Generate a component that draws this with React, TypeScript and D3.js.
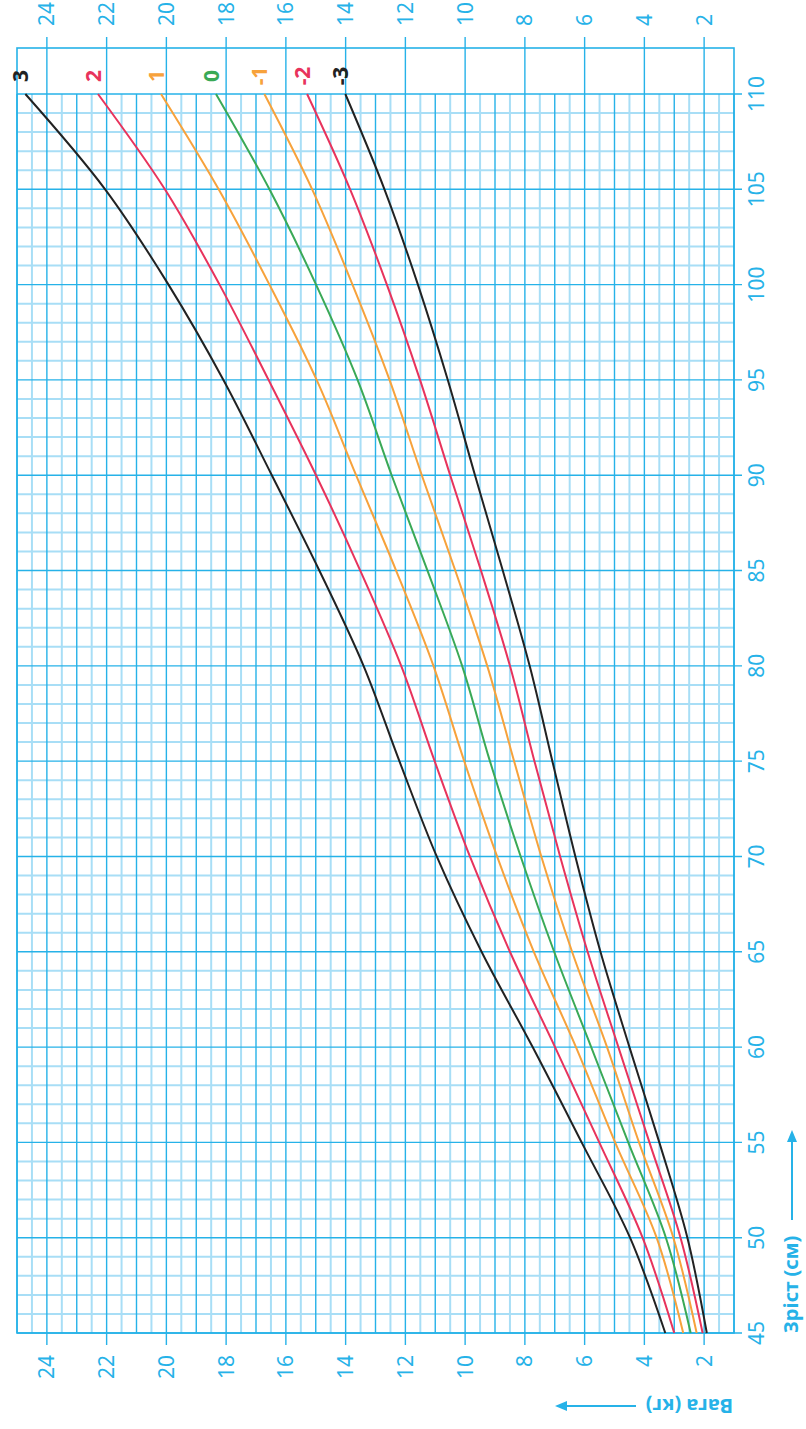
import React from "react";
import * as d3 from "d3";

const heights = [45, 50, 55, 60, 65, 70, 75, 80, 85, 90, 95, 100, 105, 110];
const sdP3 = [3.3, 4.48, 6.1, 7.74, 9.45, 10.95, 12.2, 13.4, 14.88, 16.47, 18.09, 19.93, 22.05, 24.72];
const sdP2 = [3.0, 4.06, 5.51, 6.99, 8.5, 9.84, 11.02, 12.14, 13.51, 14.99, 16.58, 18.22, 20.05, 22.29];
const sdP1 = [2.7, 3.59, 4.98, 6.29, 7.7, 8.93, 10.03, 11.06, 12.31, 13.65, 14.97, 16.55, 18.25, 20.18];
const sd0 = [2.45, 3.28, 4.54, 5.78, 7.02, 8.14, 9.17, 10.1, 11.26, 12.46, 13.6, 14.99, 16.55, 18.34];
const sdM1 = [2.25, 3.03, 4.18, 5.25, 6.42, 7.45, 8.36, 9.26, 10.33, 11.45, 12.53, 13.77, 15.12, 16.72];
const sdM2 = [2.05, 2.79, 3.83, 4.87, 5.9, 6.82, 7.68, 8.5, 9.47, 10.5, 11.51, 12.62, 13.85, 15.29];
const sdM3 = [1.91, 2.56, 3.5, 4.5, 5.47, 6.31, 7.08, 7.84, 8.74, 9.67, 10.58, 11.58, 12.7, 14.01];

const seriesLabels = ["3", "2", "1", "0", "-1", "-2", "-3"];
const seriesValues = [sdP3, sdP2, sdP1, sd0, sdM1, sdM2, sdM3];
const seriesColors = ["#222222", "#e8335c", "#f7a23b", "#3aa956", "#f7a23b", "#e8335c", "#222222"];

const weightTicks = [2, 4, 6, 8, 10, 12, 14, 16, 18, 20, 22, 24];
const heightTicks = [45, 50, 55, 60, 65, 70, 75, 80, 85, 90, 95, 100, 105, 110];

const xTitle = "Зріст (см)";
const yTitle = "Вага (кг)";

const W = 806;
const H = 1429;
const STRONG = "#26b2e8";
const LIGHT = "#a8def6";
const FONT = "'Noto Sans', sans-serif";

export default function App() {
  const xW = d3.scaleLinear().domain([1, 25]).range([734, 17]);
  const yH = d3.scaleLinear().domain([45, 110]).range([1333, 94]);
  const left = xW(25);
  const right = xW(1);
  const bottom = yH(45);
  const top = yH(110);
  const boxTop = 48;

  const halfKg = d3.range(1, 25.01, 0.5);
  const cms = d3.range(45, 110.01, 1);

  const line = d3
    .line<[number, number]>()
    .x((d) => xW(d[1]))
    .y((d) => yH(d[0]))
    .curve(d3.curveCatmullRom.alpha(0.5));

  return (
    <svg
      width={W}
      height={H}
      style={{ position: "absolute", left: 0, top: 0, background: "#fff" }}
    >
      {cms
        .filter((c) => c % 5 !== 0)
        .map((c) => (
          <line key={"hm" + c} x1={left} x2={right} y1={yH(c)} y2={yH(c)} stroke={LIGHT} strokeWidth={2} />
        ))}
      {halfKg
        .filter((w) => w % 1 !== 0)
        .map((w) => (
          <line key={"vm" + w} x1={xW(w)} x2={xW(w)} y1={top} y2={bottom} stroke={LIGHT} strokeWidth={2} />
        ))}
      {halfKg
        .filter((w) => w % 1 === 0)
        .map((w) => {
          const even = w % 2 === 0 && w >= 2 && w <= 24;
          return (
            <line
              key={"vM" + w}
              x1={xW(w)}
              x2={xW(w)}
              y1={even ? 37 : top}
              y2={even ? bottom + 12 : bottom}
              stroke={STRONG}
              strokeWidth={1.4}
            />
          );
        })}
      {cms
        .filter((c) => c % 5 === 0)
        .map((c) => (
          <line key={"hM" + c} x1={left} x2={right + 8} y1={yH(c)} y2={yH(c)} stroke={STRONG} strokeWidth={1.4} />
        ))}
      <rect x={left} y={boxTop} width={right - left} height={bottom - boxTop} fill="none" stroke={STRONG} strokeWidth={1.6} />

      {seriesValues.map((vals, i) => (
        <path
          key={"s" + i}
          d={line(heights.map((h, j) => [h, vals[j]] as [number, number])) || ""}
          fill="none"
          stroke={seriesColors[i]}
          strokeWidth={2}
        />
      ))}
      {seriesValues.map((vals, i) => {
        const x = xW(vals[vals.length - 1]) - 5;
        return (
          <text
            key={"sl" + i}
            transform={`translate(${x},76) rotate(-90)`}
            textAnchor="middle"
            dy="0.36em"
            fill={seriesColors[i]}
            fontFamily={FONT}
            fontWeight={700}
            fontSize={21}
          >
            {seriesLabels[i]}
          </text>
        );
      })}

      {weightTicks.map((w) => (
        <text
          key={"wb" + w}
          transform={`translate(${xW(w)},${bottom + 22}) rotate(-90)`}
          textAnchor="end"
          dy="0.36em"
          fill={STRONG}
          fontFamily={FONT}
          fontSize={21}
        >
          {w}
        </text>
      ))}
      {weightTicks.map((w) => (
        <text
          key={"wt" + w}
          transform={`translate(${xW(w)},26) rotate(-90)`}
          textAnchor="start"
          dy="0.36em"
          fill={STRONG}
          fontFamily={FONT}
          fontSize={21}
        >
          {w}
        </text>
      ))}
      {heightTicks.map((h) => (
        <text
          key={"h" + h}
          transform={`translate(756,${yH(h)}) rotate(-90)`}
          textAnchor="middle"
          dy="0.36em"
          fill={STRONG}
          fontFamily={FONT}
          fontSize={21}
        >
          {h}
        </text>
      ))}

      <text
        transform={`translate(791,${bottom}) rotate(-90)`}
        textAnchor="start"
        dy="0.36em"
        fill={STRONG}
        fontFamily={FONT}
        fontWeight={700}
        fontSize={20}
      >
        {xTitle}
      </text>
      <line x1={792} x2={792} y1={1220} y2={1140} stroke={STRONG} strokeWidth={2} />
      <path d="M792,1130 L787,1142 L797,1142 Z" fill={STRONG} />

      <text
        transform={`translate(733,1406) rotate(180)`}
        textAnchor="start"
        dy="0.36em"
        fill={STRONG}
        fontFamily={FONT}
        fontWeight={700}
        fontSize={20}
      >
        {yTitle}
      </text>
      <line x1={636} x2={566} y1={1406} y2={1406} stroke={STRONG} strokeWidth={2} />
      <path d="M555,1406 L567,1401 L567,1411 Z" fill={STRONG} />
    </svg>
  );
}
